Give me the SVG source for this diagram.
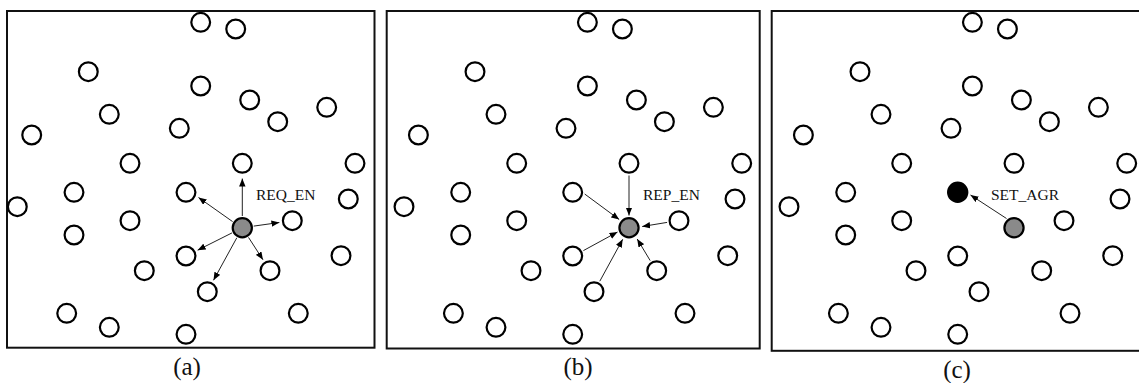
<svg xmlns="http://www.w3.org/2000/svg" xmlns:xlink="http://www.w3.org/1999/xlink" width="1139" height="383" viewBox="0 0 1139 383">
<style>
.frame{fill:none;stroke:#111;stroke-width:2}
.n{fill:#fff;stroke:#000;stroke-width:2.2}
.g{fill:#8a8a8a;stroke:#000;stroke-width:2.2}
.k{fill:#000;stroke:#000;stroke-width:2.2}
.c{stroke:#222;stroke-width:1;fill:none;marker-end:url(#ah)}
.lbl{font-family:"Liberation Serif","Times New Roman",serif;font-size:15.5px;fill:#111}
.cap{font-family:"Liberation Serif","Times New Roman",serif;font-size:25px;fill:#111;text-anchor:middle}
</style>
<defs>
<marker id="ah" markerUnits="userSpaceOnUse" markerWidth="8" markerHeight="7" refX="8" refY="3.25" orient="auto">
<path d="M0,0 L8,3.25 L0,6.5 z" fill="#000"/>
</marker>
</defs>
<rect id="frame-a" class="frame" x="7" y="11" width="367.5" height="336.7"/>
<rect id="frame-b" class="frame" x="386.7" y="11" width="373" height="337.5"/>
<rect id="frame-c" class="frame" x="771.7" y="11" width="380" height="339.8"/>

<g id="panel-a">
<g id="a1"><circle class="n" cx="200.7" cy="22.3" r="9.4"/></g>
<g id="a2"><circle class="n" cx="235.7" cy="29" r="9.4"/></g>
<g id="a3"><circle class="n" cx="88.3" cy="71.7" r="9.4"/></g>
<g id="a4"><circle class="n" cx="200.7" cy="86" r="9.4"/></g>
<g id="a5"><circle class="n" cx="249.7" cy="100" r="9.4"/></g>
<g id="a6"><circle class="n" cx="326.7" cy="107.3" r="9.4"/></g>
<g id="a7"><circle class="n" cx="109.3" cy="114.3" r="9.4"/></g>
<g id="a8"><circle class="n" cx="277.7" cy="121.7" r="9.4"/></g>
<g id="a9"><circle class="n" cx="179.3" cy="128.3" r="9.4"/></g>
<g id="a10"><circle class="n" cx="31.7" cy="135" r="9.4"/></g>
<g id="a11"><circle class="n" cx="130" cy="163.3" r="9.4"/></g>
<g id="a12"><circle class="n" cx="242.3" cy="163.3" r="9.4"/></g>
<g id="a13"><circle class="n" cx="355" cy="163.3" r="9.4"/></g>
<g id="a14"><circle class="n" cx="74" cy="192.3" r="9.4"/></g>
<g id="a15"><circle class="n" cx="186" cy="192.3" r="9.4"/></g>
<g id="a16"><circle class="n" cx="348.3" cy="199" r="9.4"/></g>
<g id="a17"><circle class="n" cx="17.3" cy="206.7" r="9.4"/></g>
<g id="a18"><circle class="n" cx="130" cy="220.7" r="9.4"/></g>
<g id="a19"><circle class="n" cx="292.3" cy="220.7" r="9.4"/></g>
<g id="a20"><circle class="g" cx="242.3" cy="227.7" r="9.6"/></g>
<g id="a21"><circle class="n" cx="74" cy="235" r="9.4"/></g>
<g id="a22"><circle class="n" cx="186" cy="256" r="9.4"/></g>
<g id="a23"><circle class="n" cx="341" cy="255.7" r="9.4"/></g>
<g id="a24"><circle class="n" cx="144.3" cy="270.7" r="9.4"/></g>
<g id="a25"><circle class="n" cx="270" cy="270.7" r="9.4"/></g>
<g id="a26"><circle class="n" cx="207.3" cy="291.7" r="9.4"/></g>
<g id="a27"><circle class="n" cx="66.7" cy="313.3" r="9.4"/></g>
<g id="a28"><circle class="n" cx="298.3" cy="313.3" r="9.4"/></g>
<g id="a29"><circle class="n" cx="109.3" cy="327.3" r="9.4"/></g>
<g id="a30"><circle class="n" cx="186" cy="334.3" r="9.4"/></g>
</g>

<g id="panel-b" transform="translate(386.7,0)">
<g id="b1"><circle class="n" cx="200.7" cy="22.3" r="9.4"/></g>
<g id="b2"><circle class="n" cx="235.7" cy="29" r="9.4"/></g>
<g id="b3"><circle class="n" cx="88.3" cy="71.7" r="9.4"/></g>
<g id="b4"><circle class="n" cx="200.7" cy="86" r="9.4"/></g>
<g id="b5"><circle class="n" cx="249.7" cy="100" r="9.4"/></g>
<g id="b6"><circle class="n" cx="326.7" cy="107.3" r="9.4"/></g>
<g id="b7"><circle class="n" cx="109.3" cy="114.3" r="9.4"/></g>
<g id="b8"><circle class="n" cx="277.7" cy="121.7" r="9.4"/></g>
<g id="b9"><circle class="n" cx="179.3" cy="128.3" r="9.4"/></g>
<g id="b10"><circle class="n" cx="31.7" cy="135" r="9.4"/></g>
<g id="b11"><circle class="n" cx="130" cy="163.3" r="9.4"/></g>
<g id="b12"><circle class="n" cx="242.3" cy="163.3" r="9.4"/></g>
<g id="b13"><circle class="n" cx="355" cy="163.3" r="9.4"/></g>
<g id="b14"><circle class="n" cx="74" cy="192.3" r="9.4"/></g>
<g id="b15"><circle class="n" cx="186" cy="192.3" r="9.4"/></g>
<g id="b16"><circle class="n" cx="348.3" cy="199" r="9.4"/></g>
<g id="b17"><circle class="n" cx="17.3" cy="206.7" r="9.4"/></g>
<g id="b18"><circle class="n" cx="130" cy="220.7" r="9.4"/></g>
<g id="b19"><circle class="n" cx="292.3" cy="220.7" r="9.4"/></g>
<g id="b20"><circle class="g" cx="242.3" cy="227.7" r="9.6"/></g>
<g id="b21"><circle class="n" cx="74" cy="235" r="9.4"/></g>
<g id="b22"><circle class="n" cx="186" cy="256" r="9.4"/></g>
<g id="b23"><circle class="n" cx="341" cy="255.7" r="9.4"/></g>
<g id="b24"><circle class="n" cx="144.3" cy="270.7" r="9.4"/></g>
<g id="b25"><circle class="n" cx="270" cy="270.7" r="9.4"/></g>
<g id="b26"><circle class="n" cx="207.3" cy="291.7" r="9.4"/></g>
<g id="b27"><circle class="n" cx="66.7" cy="313.3" r="9.4"/></g>
<g id="b28"><circle class="n" cx="298.3" cy="313.3" r="9.4"/></g>
<g id="b29"><circle class="n" cx="109.3" cy="327.3" r="9.4"/></g>
<g id="b30"><circle class="n" cx="186" cy="334.3" r="9.4"/></g>
</g>

<g id="panel-c" transform="translate(771.7,0)">
<g id="c1"><circle class="n" cx="200.7" cy="22.3" r="9.4"/></g>
<g id="c2"><circle class="n" cx="235.7" cy="29" r="9.4"/></g>
<g id="c3"><circle class="n" cx="88.3" cy="71.7" r="9.4"/></g>
<g id="c4"><circle class="n" cx="200.7" cy="86" r="9.4"/></g>
<g id="c5"><circle class="n" cx="249.7" cy="100" r="9.4"/></g>
<g id="c6"><circle class="n" cx="326.7" cy="107.3" r="9.4"/></g>
<g id="c7"><circle class="n" cx="109.3" cy="114.3" r="9.4"/></g>
<g id="c8"><circle class="n" cx="277.7" cy="121.7" r="9.4"/></g>
<g id="c9"><circle class="n" cx="179.3" cy="128.3" r="9.4"/></g>
<g id="c10"><circle class="n" cx="31.7" cy="135" r="9.4"/></g>
<g id="c11"><circle class="n" cx="130" cy="163.3" r="9.4"/></g>
<g id="c12"><circle class="n" cx="242.3" cy="163.3" r="9.4"/></g>
<g id="c13"><circle class="n" cx="355" cy="163.3" r="9.4"/></g>
<g id="c14"><circle class="n" cx="74" cy="192.3" r="9.4"/></g>
<g id="c15"><circle class="k" cx="186" cy="192.3" r="9.6"/></g>
<g id="c16"><circle class="n" cx="348.3" cy="199" r="9.4"/></g>
<g id="c17"><circle class="n" cx="17.3" cy="206.7" r="9.4"/></g>
<g id="c18"><circle class="n" cx="130" cy="220.7" r="9.4"/></g>
<g id="c19"><circle class="n" cx="292.3" cy="220.7" r="9.4"/></g>
<g id="c20"><circle class="g" cx="242.3" cy="227.7" r="9.6"/></g>
<g id="c21"><circle class="n" cx="74" cy="235" r="9.4"/></g>
<g id="c22"><circle class="n" cx="186" cy="256" r="9.4"/></g>
<g id="c23"><circle class="n" cx="341" cy="255.7" r="9.4"/></g>
<g id="c24"><circle class="n" cx="144.3" cy="270.7" r="9.4"/></g>
<g id="c25"><circle class="n" cx="270" cy="270.7" r="9.4"/></g>
<g id="c26"><circle class="n" cx="207.3" cy="291.7" r="9.4"/></g>
<g id="c27"><circle class="n" cx="66.7" cy="313.3" r="9.4"/></g>
<g id="c28"><circle class="n" cx="298.3" cy="313.3" r="9.4"/></g>
<g id="c29"><circle class="n" cx="109.3" cy="327.3" r="9.4"/></g>
<g id="c30"><circle class="n" cx="186" cy="334.3" r="9.4"/></g>
</g>

<g id="connectors">
<g id="conn-a">
<line class="c" x1="242.3" y1="216" x2="242.3" y2="178.5"/>
<line class="c" x1="232.6" y1="221.6" x2="198.5" y2="197.5"/>
<line class="c" x1="253.7" y1="226.1" x2="279.4" y2="222.5"/>
<line class="c" x1="232" y1="232.9" x2="197.6" y2="250.2"/>
<line class="c" x1="236.8" y1="237.8" x2="213.5" y2="280.3"/>
<line class="c" x1="248.5" y1="237.4" x2="263" y2="259.8"/>
</g>
<g id="conn-b" transform="translate(386.7,0)">
<line class="c" x1="242.3" y1="175.5" x2="242.3" y2="215.5"/>
<line class="c" x1="198" y1="194" x2="232.5" y2="219.5"/>
<line class="c" x1="280.4" y1="222.4" x2="255.5" y2="226.5"/>
<line class="c" x1="196.7" y1="250.6" x2="230.8" y2="232"/>
<line class="c" x1="213.1" y1="281.2" x2="236" y2="239.3"/>
<line class="c" x1="263.5" y1="260.6" x2="250.5" y2="239"/>
</g>
<g id="conn-c">
<line class="c" x1="1006.5" y1="218.5" x2="970.5" y2="195"/>
</g>
</g>

<g id="labels">
<text class="lbl" x="256" y="200">REQ_EN</text>
<text class="lbl" x="643" y="200">REP_EN</text>
<text class="lbl" x="991" y="200">SET_AGR</text>
<text class="cap" x="187" y="375">(a)</text>
<text class="cap" x="578" y="375">(b)</text>
<text class="cap" x="957" y="378">(c)</text>
</g>
</svg>
